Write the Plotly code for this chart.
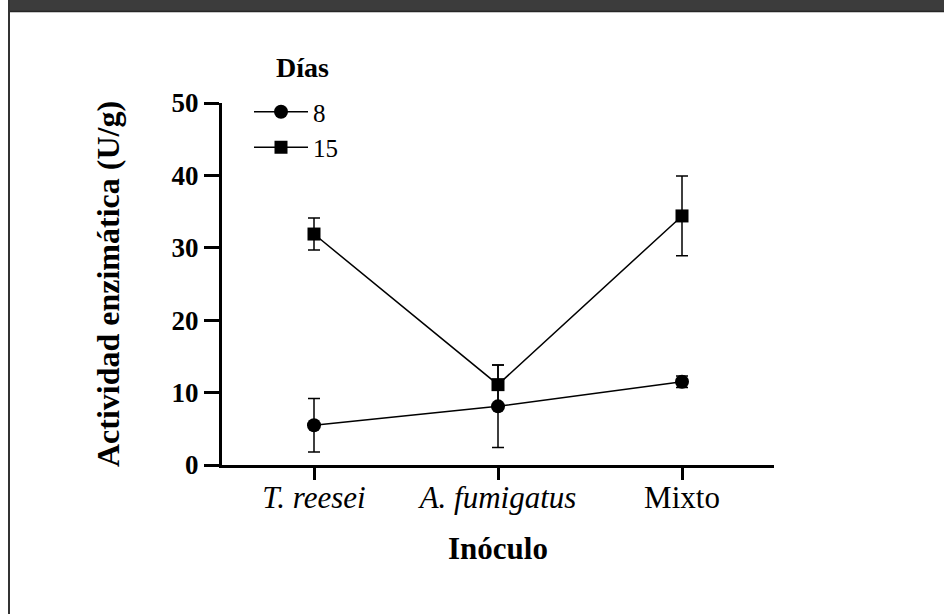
import plotly.graph_objects as go

# ---- data ----
categories = ["T. reesei", "A. fumigatus", "Mixto"]
tick_labels = ["<i>T. reesei</i>", "<i>A. fumigatus</i>", "Mixto"]
series_names = ["8", "15"]
legend_title = "Días"
day8_values = [5.5, 8.1, 11.5]
day8_errors = [3.7, 5.7, 0.8]
day15_values = [31.9, 11.1, 34.4]
day15_errors = [2.2, 2.7, 5.5]
y_ticks = [0, 10, 20, 30, 40, 50]

# ---- layout constants (pixels) ----
W, H = 944, 614
L, R, T, B = 222, 774, 103, 465
FONT = "Liberation Serif, Times New Roman, serif"


def px_x(px):
    return (px - L) / (R - L)


def px_y(py):
    return (B - py) / (B - T)


fig = go.Figure()

for name, vals, errs, sym, size in [
    (series_names[0], day8_values, day8_errors, "circle", 14),
    (series_names[1], day15_values, day15_errors, "square", 13),
]:
    fig.add_trace(go.Scatter(
        x=categories, y=vals, name=name, mode="lines+markers",
        line=dict(color="black", width=1.5),
        marker=dict(symbol=sym, size=size, color="black"),
        error_y=dict(type="data", array=errs, visible=True,
                     color="black", thickness=1.5, width=6),
    ))

fig.update_layout(
    width=W, height=H,
    margin=dict(l=L, r=W - R, t=T, b=H - B, pad=0),
    paper_bgcolor="white", plot_bgcolor="white",
    font=dict(family=FONT, color="black", size=26),
    showlegend=True,
    legend=dict(
        x=px_x(249), y=px_y(89), xanchor="left", yanchor="top",
        bgcolor="rgba(0,0,0,0)",
        font=dict(family=FONT, size=25, color="black"),
        tracegroupgap=0, itemwidth=54,
    ),
    annotations=[dict(
        text=f"<b>{legend_title}</b>", xref="paper", yref="paper",
        x=px_x(302), y=px_y(67), xanchor="center", yanchor="middle",
        showarrow=False, font=dict(family=FONT, size=28, color="black"),
    )],
    xaxis=dict(
        type="category", categoryorder="array", categoryarray=categories,
        range=[-0.5, 2.5],
        tickmode="array", tickvals=categories, ticktext=tick_labels,
        showline=True, linecolor="black", linewidth=3,
        ticks="outside", ticklen=12, tickwidth=3, tickcolor="black",
        tickfont=dict(family=FONT, size=31), ticklabelstandoff=-9,
        showgrid=False, zeroline=False,
        title=dict(text="<b>Inóculo</b>", font=dict(family=FONT, size=31),
                   standoff=24),
    ),
    yaxis=dict(
        range=[0, 50], tickmode="array", tickvals=y_ticks,
        ticktext=[f"<b>{v}</b>" for v in y_ticks],
        showline=True, linecolor="black", linewidth=3,
        ticks="outside", ticklen=15, tickwidth=3, tickcolor="black",
        tickfont=dict(family=FONT, size=27),
        showgrid=False, zeroline=False,
        title=dict(text="<b>Actividad enzimática (U/g)</b>",
                   font=dict(family=FONT, size=32), standoff=43),
    ),
    shapes=[
        dict(type="rect", xref="paper", yref="paper",
             x0=px_x(8), x1=px_x(W), y0=px_y(12), y1=px_y(0),
             fillcolor="#3c3c3c", line=dict(width=0), layer="above"),
        dict(type="line", xref="paper", yref="paper",
             x0=px_x(8), x1=px_x(W), y0=px_y(11.5), y1=px_y(11.5),
             line=dict(color="#262626", width=1.5), layer="above"),
        dict(type="line", xref="paper", yref="paper",
             x0=px_x(9), x1=px_x(9), y0=px_y(H), y1=px_y(0),
             line=dict(color="#333333", width=2), layer="above"),
    ],
)

fig.write_html("out.html", config={"displayModeBar": False},
               post_script="document.body.style.margin='0';")
